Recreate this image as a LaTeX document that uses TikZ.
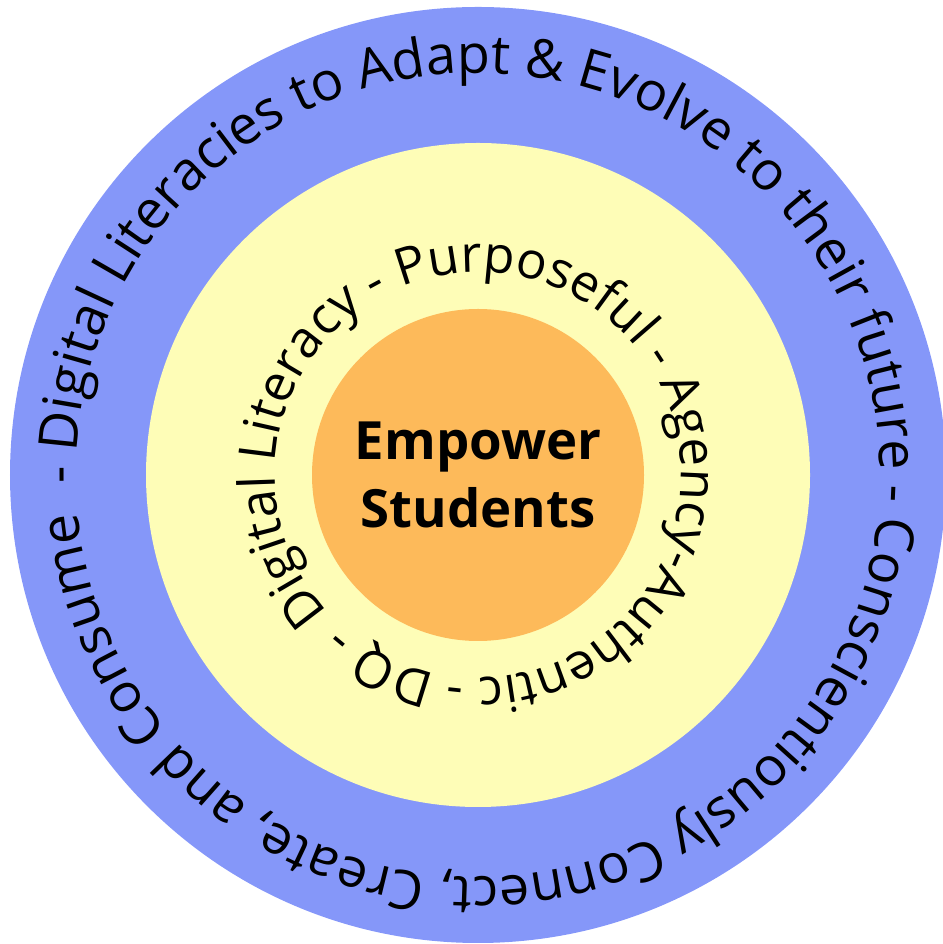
\documentclass[tikz,border=0pt]{standalone}
\usepackage{fontspec}
\setmainfont{Open Sans}
\usepackage{xcolor}
\usepackage{tikz}
\usetikzlibrary {positioning}
\usetikzlibrary{decorations.text}
\definecolor{ringblue}{RGB}{133,151,249}
\definecolor{ringyellow}{RGB}{254,253,183}
\definecolor{ringorange}{RGB}{253,186,90}
\newcommand{\outerfont}{\fontsize{30.7}{36}\selectfont}
\newcommand{\innerfont}{\fontsize{29}{35}\selectfont}

\begin{document}
\begin{tikzpicture}[disc/.style={circle,inner sep=0pt,draw=none}, ring text/.style={decorate,decoration={text along path}}]
            \useasboundingbox (0,0) rectangle (18.86,18.88);
            \node[disc,fill=ringblue,minimum size=18.72cm] (outer) at (9.56,9.38) {};
            \node[disc,fill=ringyellow,minimum size=13.28cm] (middle) at (outer.center) {};
            \node[disc,fill=ringorange,minimum size=6.64cm,align=center,font=\bfseries\fontsize{30}{38.7}\selectfont] (core) at (outer.center) {Empower\\Students};

            \path[ring text,decoration={text={|\outerfont|- Digital Literacies to Adapt {\&} Evolve to their future - Conscientiously Connect, Create, and Consume}}]
                (outer.center) ++(181.25:8.04) arc[start angle=181.25, end angle=-178.75, radius=8.04];
            \path[ring text,decoration={text={|\innerfont|Digital Literacy - Purposeful - Agency-Authentic - DQ -}}]
                (core.center) ++(222.6:4.06) arc[start angle=222.6, end angle=-137.4, radius=4.06];

        \end{tikzpicture}
\end{document}
